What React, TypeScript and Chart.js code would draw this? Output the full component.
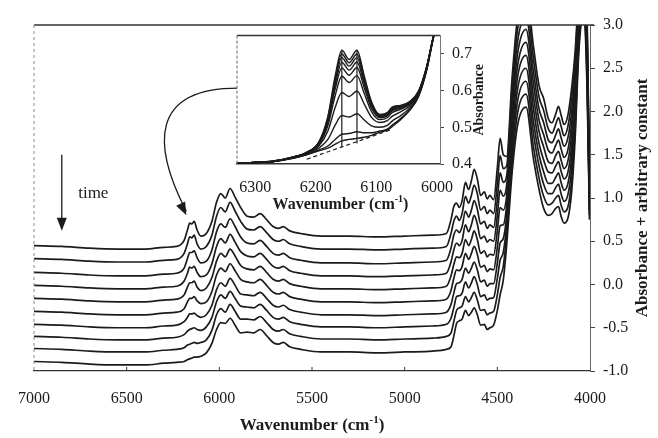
import React, { useEffect, useRef } from "react";
import { Chart, registerables } from "chart.js";

Chart.register(...registerables);

const FONT = "'Liberation Serif', 'Times New Roman', serif";
const INK = "#1b1b1b";

// ---------- main chart data ----------
const WAVENUMBERS = [7000, 6850, 6700, 6550, 6400, 6300, 6230, 6190, 6172, 6160, 6148, 6136, 6120, 6100, 6070, 6040, 6015, 5992, 5968, 5942, 5915, 5885, 5850, 5815, 5780, 5745, 5710, 5680, 5655, 5620, 5560, 5450, 5300, 5150, 5000, 4850, 4775, 4750, 4735, 4720, 4705, 4690, 4672, 4655, 4640, 4625, 4608, 4590, 4570, 4555, 4540, 4520, 4500, 4485, 4468, 4450, 4420, 4390, 4345, 4305, 4275, 4250, 4225, 4205, 4185, 4170, 4155, 4140, 4120, 4100, 4080, 4060, 4035, 4015, 4003];

const SPECTRUM_1 = [0.45, 0.44, 0.42, 0.41, 0.41, 0.43, 0.44, 0.51, 0.63, 0.71, 0.70, 0.73, 0.63, 0.56, 0.59, 0.73, 0.95, 1.05, 1.00, 1.11, 1.01, 0.89, 0.79, 0.78, 0.82, 0.75, 0.67, 0.65, 0.67, 0.62, 0.59, 0.56, 0.56, 0.55, 0.56, 0.57, 0.59, 0.75, 0.90, 0.94, 0.89, 0.97, 1.18, 1.10, 1.20, 1.33, 1.22, 1.03, 1.07, 0.99, 1.03, 0.98, 1.35, 1.69, 1.50, 1.48, 2.40, 3.10, 3.40, 2.75, 2.30, 2.15, 1.92, 1.87, 1.97, 2.06, 1.95, 1.85, 1.95, 2.25, 2.70, 3.40, 3.60, 3.00, 1.25];
const SPECTRUM_2 = [0.30, 0.29, 0.27, 0.26, 0.26, 0.28, 0.29, 0.36, 0.47, 0.55, 0.54, 0.57, 0.47, 0.41, 0.44, 0.57, 0.79, 0.89, 0.84, 0.95, 0.85, 0.73, 0.64, 0.63, 0.67, 0.60, 0.52, 0.50, 0.52, 0.47, 0.44, 0.41, 0.41, 0.40, 0.41, 0.42, 0.44, 0.59, 0.73, 0.79, 0.74, 0.82, 1.02, 0.94, 1.03, 1.15, 1.05, 0.86, 0.90, 0.82, 0.86, 0.82, 1.17, 1.49, 1.34, 1.37, 2.28, 2.96, 3.25, 2.61, 2.17, 2.01, 1.80, 1.75, 1.85, 1.93, 1.82, 1.72, 1.82, 2.12, 2.59, 3.32, 3.54, 2.91, 1.19];
const SPECTRUM_3 = [0.14, 0.13, 0.11, 0.10, 0.10, 0.12, 0.13, 0.19, 0.30, 0.37, 0.37, 0.39, 0.31, 0.25, 0.27, 0.40, 0.61, 0.70, 0.66, 0.76, 0.67, 0.55, 0.48, 0.47, 0.51, 0.44, 0.36, 0.34, 0.36, 0.31, 0.28, 0.25, 0.25, 0.24, 0.25, 0.26, 0.28, 0.42, 0.57, 0.63, 0.60, 0.67, 0.85, 0.78, 0.86, 0.97, 0.87, 0.70, 0.73, 0.65, 0.69, 0.66, 0.98, 1.29, 1.18, 1.25, 2.16, 2.82, 3.10, 2.46, 2.03, 1.87, 1.67, 1.64, 1.73, 1.80, 1.69, 1.60, 1.69, 1.98, 2.48, 3.24, 3.49, 2.82, 1.14];
const SPECTRUM_4 = [-0.01, -0.02, -0.04, -0.05, -0.05, -0.03, -0.02, 0.04, 0.13, 0.20, 0.19, 0.21, 0.14, 0.09, 0.11, 0.24, 0.44, 0.53, 0.48, 0.58, 0.49, 0.38, 0.33, 0.32, 0.36, 0.29, 0.21, 0.19, 0.21, 0.16, 0.13, 0.10, 0.10, 0.09, 0.10, 0.11, 0.13, 0.26, 0.40, 0.48, 0.45, 0.51, 0.69, 0.61, 0.69, 0.80, 0.70, 0.53, 0.56, 0.49, 0.52, 0.50, 0.80, 1.09, 1.02, 1.14, 2.03, 2.68, 2.95, 2.32, 1.90, 1.73, 1.55, 1.52, 1.61, 1.67, 1.56, 1.47, 1.55, 1.85, 2.37, 3.17, 3.43, 2.73, 1.08];
const SPECTRUM_5 = [-0.16, -0.17, -0.19, -0.20, -0.20, -0.18, -0.17, -0.12, -0.03, 0.02, 0.02, 0.04, -0.03, -0.07, -0.04, 0.08, 0.27, 0.36, 0.32, 0.41, 0.33, 0.22, 0.18, 0.17, 0.21, 0.14, 0.06, 0.04, 0.06, 0.01, -0.02, -0.05, -0.05, -0.06, -0.05, -0.04, -0.02, 0.10, 0.23, 0.32, 0.31, 0.36, 0.52, 0.45, 0.52, 0.62, 0.52, 0.36, 0.39, 0.32, 0.35, 0.34, 0.62, 0.89, 0.86, 1.02, 1.91, 2.54, 2.80, 2.17, 1.77, 1.59, 1.42, 1.40, 1.49, 1.54, 1.43, 1.34, 1.42, 1.72, 2.26, 3.09, 3.38, 2.64, 1.03];
const SPECTRUM_6 = [-0.31, -0.32, -0.34, -0.35, -0.35, -0.33, -0.32, -0.28, -0.20, -0.16, -0.16, -0.14, -0.19, -0.22, -0.20, -0.08, 0.11, 0.19, 0.15, 0.24, 0.16, 0.06, 0.03, 0.02, 0.06, -0.01, -0.09, -0.11, -0.09, -0.14, -0.17, -0.20, -0.20, -0.21, -0.20, -0.19, -0.17, -0.07, 0.07, 0.17, 0.16, 0.21, 0.36, 0.29, 0.36, 0.44, 0.35, 0.20, 0.22, 0.15, 0.18, 0.17, 0.43, 0.68, 0.69, 0.91, 1.79, 2.41, 2.65, 2.03, 1.63, 1.44, 1.30, 1.29, 1.37, 1.42, 1.30, 1.22, 1.29, 1.58, 2.14, 3.01, 3.32, 2.56, 0.97];
const SPECTRUM_7 = [-0.46, -0.47, -0.49, -0.50, -0.50, -0.48, -0.47, -0.43, -0.38, -0.34, -0.34, -0.33, -0.36, -0.38, -0.35, -0.24, -0.06, 0.02, -0.02, 0.07, -0.01, -0.11, -0.12, -0.13, -0.09, -0.16, -0.24, -0.26, -0.24, -0.29, -0.32, -0.35, -0.35, -0.36, -0.35, -0.34, -0.32, -0.23, -0.10, 0.01, 0.02, 0.06, 0.19, 0.13, 0.19, 0.26, 0.17, 0.03, 0.05, -0.02, 0.01, 0.01, 0.25, 0.48, 0.53, 0.79, 1.67, 2.27, 2.50, 1.88, 1.50, 1.30, 1.17, 1.17, 1.24, 1.29, 1.17, 1.09, 1.16, 1.45, 2.03, 2.93, 3.27, 2.47, 0.92];
const SPECTRUM_8 = [-0.60, -0.61, -0.63, -0.64, -0.64, -0.62, -0.61, -0.58, -0.54, -0.52, -0.51, -0.50, -0.52, -0.53, -0.49, -0.38, -0.20, -0.12, -0.16, -0.08, -0.16, -0.25, -0.26, -0.27, -0.23, -0.30, -0.38, -0.40, -0.38, -0.43, -0.46, -0.49, -0.49, -0.50, -0.49, -0.48, -0.46, -0.39, -0.27, -0.14, -0.13, -0.10, 0.03, -0.04, 0.02, 0.09, 0.00, -0.14, -0.12, -0.18, -0.16, -0.15, 0.07, 0.28, 0.37, 0.68, 1.54, 2.13, 2.35, 1.74, 1.37, 1.16, 1.05, 1.05, 1.12, 1.16, 1.04, 0.96, 1.03, 1.32, 1.92, 2.86, 3.21, 2.38, 0.86];
const SPECTRUM_9 = [-0.74, -0.75, -0.77, -0.78, -0.78, -0.76, -0.75, -0.73, -0.70, -0.69, -0.68, -0.67, -0.68, -0.67, -0.64, -0.53, -0.35, -0.28, -0.32, -0.23, -0.31, -0.40, -0.40, -0.41, -0.37, -0.44, -0.52, -0.54, -0.52, -0.57, -0.60, -0.63, -0.63, -0.64, -0.63, -0.62, -0.60, -0.56, -0.43, -0.30, -0.27, -0.25, -0.14, -0.20, -0.15, -0.09, -0.18, -0.30, -0.29, -0.35, -0.33, -0.31, -0.12, 0.08, 0.21, 0.57, 1.42, 1.99, 2.20, 1.59, 1.23, 1.02, 0.92, 0.94, 1.00, 1.03, 0.91, 0.84, 0.89, 1.18, 1.81, 2.78, 3.16, 2.29, 0.81];
const SPECTRUM_10 = [-0.89, -0.90, -0.92, -0.93, -0.93, -0.91, -0.90, -0.89, -0.87, -0.86, -0.85, -0.84, -0.84, -0.83, -0.79, -0.68, -0.52, -0.44, -0.45, -0.39, -0.47, -0.56, -0.55, -0.56, -0.52, -0.59, -0.67, -0.69, -0.67, -0.72, -0.75, -0.78, -0.78, -0.79, -0.78, -0.77, -0.75, -0.72, -0.60, -0.45, -0.42, -0.40, -0.30, -0.36, -0.32, -0.27, -0.35, -0.47, -0.46, -0.52, -0.50, -0.47, -0.30, -0.12, 0.05, 0.45, 1.30, 1.85, 2.05, 1.45, 1.10, 0.88, 0.80, 0.82, 0.88, 0.90, 0.78, 0.71, 0.76, 1.05, 1.70, 2.70, 3.10, 2.20, 0.75];

const MAIN_SPECTRA = [SPECTRUM_1, SPECTRUM_2, SPECTRUM_3, SPECTRUM_4, SPECTRUM_5, SPECTRUM_6, SPECTRUM_7, SPECTRUM_8, SPECTRUM_9, SPECTRUM_10];

const MAIN_X_MIN = 4000;
const MAIN_X_MAX = 7000;
const MAIN_X_STEP = 500;
const MAIN_Y_MIN = -1;
const MAIN_Y_MAX = 3;
const MAIN_Y_STEP = 0.5;

// ---------- inset data ----------
const INSET_WAVENUMBERS = [6330, 6300, 6270, 6240, 6215, 6195, 6180, 6168, 6157, 6145, 6132, 6120, 6108, 6094, 6082, 6074, 6060, 6045, 6030, 6017, 6007, 5998];

const INSET_1 = [0.403, 0.404, 0.408, 0.418, 0.432, 0.460, 0.530, 0.640, 0.710, 0.685, 0.710, 0.640, 0.570, 0.535, 0.540, 0.555, 0.560, 0.570, 0.600, 0.665, 0.740, 0.800];
const INSET_2 = [0.403, 0.404, 0.408, 0.418, 0.432, 0.459, 0.526, 0.632, 0.700, 0.676, 0.700, 0.633, 0.566, 0.533, 0.538, 0.553, 0.558, 0.569, 0.599, 0.665, 0.740, 0.800];
const INSET_3 = [0.403, 0.404, 0.408, 0.418, 0.431, 0.458, 0.523, 0.625, 0.690, 0.667, 0.690, 0.626, 0.562, 0.531, 0.536, 0.551, 0.557, 0.568, 0.599, 0.664, 0.740, 0.800];
const INSET_4 = [0.403, 0.404, 0.407, 0.418, 0.431, 0.457, 0.518, 0.615, 0.677, 0.656, 0.678, 0.618, 0.558, 0.529, 0.534, 0.548, 0.555, 0.567, 0.598, 0.664, 0.739, 0.800];
const INSET_5 = [0.403, 0.404, 0.407, 0.417, 0.431, 0.455, 0.513, 0.604, 0.662, 0.642, 0.663, 0.607, 0.552, 0.526, 0.531, 0.545, 0.552, 0.565, 0.597, 0.663, 0.739, 0.800];
const INSET_6 = [0.403, 0.404, 0.407, 0.417, 0.430, 0.453, 0.505, 0.586, 0.639, 0.622, 0.641, 0.592, 0.543, 0.521, 0.526, 0.540, 0.549, 0.563, 0.596, 0.662, 0.739, 0.800];
const INSET_7 = [0.403, 0.404, 0.407, 0.417, 0.429, 0.449, 0.490, 0.554, 0.595, 0.584, 0.599, 0.563, 0.527, 0.513, 0.518, 0.530, 0.542, 0.559, 0.593, 0.661, 0.738, 0.800];
const INSET_8 = [0.403, 0.404, 0.407, 0.416, 0.427, 0.443, 0.467, 0.506, 0.532, 0.528, 0.537, 0.520, 0.504, 0.500, 0.505, 0.517, 0.532, 0.553, 0.590, 0.658, 0.737, 0.800];
const INSET_9 = [0.403, 0.404, 0.407, 0.415, 0.426, 0.438, 0.449, 0.467, 0.481, 0.483, 0.488, 0.485, 0.485, 0.490, 0.495, 0.506, 0.524, 0.548, 0.587, 0.656, 0.736, 0.800];
const INSET_10 = [0.403, 0.404, 0.407, 0.415, 0.425, 0.436, 0.443, 0.454, 0.463, 0.467, 0.470, 0.473, 0.478, 0.487, 0.492, 0.502, 0.521, 0.546, 0.585, 0.655, 0.735, 0.800];
const INSET_SPECTRA = [INSET_1, INSET_2, INSET_3, INSET_4, INSET_5, INSET_6, INSET_7, INSET_8, INSET_9, INSET_10];

const INSET_BASELINE_X = [6215, 6075];
const INSET_BASELINE_Y = [0.413, 0.494];
const INSET_MARKER_X = [6157, 6132];
const INSET_MARKER_TOP = [0.71, 0.71];
const INSET_MARKER_BOTTOM = [0.448, 0.456];

const INSET_X_MIN = 5995;
const INSET_X_MAX = 6330;
const INSET_X_STEP = 100;
const INSET_Y_MIN = 0.4;
const INSET_Y_MAX = 0.75;
const INSET_Y_STEP = 0.1;

// ---------- annotations (in main data coordinates) ----------
const TIME_ARROW_WN = 6850;
const TIME_ARROW_FROM = 1.5;
const TIME_ARROW_TO = 0.62;
const TIME_LABEL = { wn: 6680, y: 1.05, text: "time" };
const CURVE_ARROW = {
  start: [5900, 2.27],
  c1: [6370, 2.27],
  c2: [6365, 1.62],
  end: [6178, 0.80],
};

type Part = { text: string; sup?: boolean };

function drawRich(
  ctx: CanvasRenderingContext2D,
  parts: Part[],
  cx: number,
  cy: number,
  size: number,
  bold: boolean,
  rotation = 0
) {
  ctx.save();
  ctx.translate(cx, cy);
  ctx.rotate(rotation);
  const f = (s: number) => `${bold ? "bold " : ""}${s}px ${FONT}`;
  const supSize = Math.round(size * 0.62);
  let total = 0;
  const widths = parts.map((p) => {
    ctx.font = f(p.sup ? supSize : size);
    const w = ctx.measureText(p.text).width;
    total += w;
    return w;
  });
  let x = -total / 2;
  ctx.textBaseline = "middle";
  ctx.textAlign = "left";
  ctx.fillStyle = INK;
  parts.forEach((p, i) => {
    ctx.font = f(p.sup ? supSize : size);
    ctx.fillText(p.text, x, p.sup ? -size * 0.33 : 0);
    x += widths[i];
  });
  ctx.restore();
}

function arrowHead(ctx: CanvasRenderingContext2D, tipX: number, tipY: number, angle: number, len: number, half: number) {
  ctx.save();
  ctx.translate(tipX, tipY);
  ctx.rotate(angle);
  ctx.beginPath();
  ctx.moveTo(0, 0);
  ctx.lineTo(-len, -half);
  ctx.lineTo(-len, half);
  ctx.closePath();
  ctx.fill();
  ctx.restore();
}

const mainDecor = {
  id: "mainDecor",
  afterDraw(chart: any) {
    const { ctx, chartArea: a, scales } = chart;
    const x = scales.x;
    const y = scales.y;
    ctx.save();
    // top frame
    ctx.strokeStyle = "#333";
    ctx.lineWidth = 1.5;
    ctx.beginPath();
    ctx.moveTo(a.left, a.top);
    ctx.lineTo(a.right + 4, a.top);
    ctx.stroke();
    // left dashed frame
    ctx.strokeStyle = "#8a8a8a";
    ctx.lineWidth = 1;
    ctx.setLineDash([3, 3]);
    ctx.beginPath();
    ctx.moveTo(a.left, a.top);
    ctx.lineTo(a.left, a.bottom);
    ctx.stroke();
    ctx.setLineDash([]);
    // inner x ticks
    ctx.strokeStyle = "#333";
    ctx.lineWidth = 1;
    x.ticks.forEach((t: any) => {
      if (t.value === x.min || t.value === x.max) return;
      const px = x.getPixelForValue(t.value);
      ctx.beginPath();
      ctx.moveTo(px, a.bottom);
      ctx.lineTo(px, a.bottom - 4);
      ctx.stroke();
    });
    // time arrow
    ctx.strokeStyle = INK;
    ctx.fillStyle = INK;
    ctx.lineWidth = 1.3;
    const tx = x.getPixelForValue(TIME_ARROW_WN);
    const ty0 = y.getPixelForValue(TIME_ARROW_FROM);
    const ty1 = y.getPixelForValue(TIME_ARROW_TO);
    ctx.beginPath();
    ctx.moveTo(tx, ty0);
    ctx.lineTo(tx, ty1 - 6);
    ctx.stroke();
    arrowHead(ctx, tx, ty1, Math.PI / 2, 13, 5);
    ctx.font = `17px ${FONT}`;
    ctx.textAlign = "center";
    ctx.textBaseline = "middle";
    ctx.fillText(TIME_LABEL.text, x.getPixelForValue(TIME_LABEL.wn), y.getPixelForValue(TIME_LABEL.y));
    // curved arrow from inset to the 6150 band
    const P = (p: number[]) => [x.getPixelForValue(p[0]), y.getPixelForValue(p[1])];
    const s = P(CURVE_ARROW.start);
    const c1 = P(CURVE_ARROW.c1);
    const c2 = P(CURVE_ARROW.c2);
    const e = P(CURVE_ARROW.end);
    ctx.lineWidth = 1.3;
    ctx.beginPath();
    ctx.moveTo(s[0], s[1]);
    ctx.bezierCurveTo(c1[0], c1[1], c2[0], c2[1], e[0], e[1] - 4);
    ctx.stroke();
    arrowHead(ctx, e[0], e[1], Math.atan2(e[1] - c2[1], e[0] - c2[0]), 13, 5);
    // titles
    drawRich(
      ctx,
      [{ text: "Wavenumber (cm" }, { text: "-1", sup: true }, { text: ")" }],
      (a.left + a.right) / 2,
      a.bottom + 55,
      17,
      true
    );
    drawRich(ctx, [{ text: "Absorbance + arbitrary constant" }], 643, (a.top + a.bottom) / 2, 17, true, -Math.PI / 2);
    ctx.restore();
  },
};

const insetDecor = {
  id: "insetDecor",
  beforeDraw(chart: any) {
    const { ctx, chartArea: a } = chart;
    ctx.save();
    ctx.fillStyle = "#ffffff";
    ctx.fillRect(a.left, a.top, a.right - a.left, a.bottom - a.top);
    ctx.restore();
  },
  afterDraw(chart: any) {
    const { ctx, chartArea: a } = chart;
    ctx.save();
    ctx.strokeStyle = "#333";
    ctx.lineWidth = 1.5;
    ctx.beginPath();
    ctx.moveTo(a.right, a.top);
    ctx.lineTo(a.left, a.top);
    ctx.stroke();
    ctx.strokeStyle = "#666";
    ctx.lineWidth = 1;
    ctx.setLineDash([3, 2]);
    ctx.beginPath();
    ctx.moveTo(a.left, a.top);
    ctx.lineTo(a.left, a.bottom);
    ctx.stroke();
    ctx.setLineDash([]);
    drawRich(
      ctx,
      [{ text: "Wavenumber (cm" }, { text: "-1", sup: true }, { text: ")" }],
      (a.left + a.right) / 2 + 2,
      a.bottom + 41,
      16,
      true
    );
    drawRich(ctx, [{ text: "Absorbance" }], a.right + 39, (a.top + a.bottom) / 2, 14, true, -Math.PI / 2);
    ctx.restore();
  },
};

export default function App() {
  const mainRef = useRef<HTMLCanvasElement>(null);
  const insetRef = useRef<HTMLCanvasElement>(null);

  useEffect(() => {
    document.body.style.margin = "0";
    Chart.defaults.font.family = FONT;
    Chart.defaults.color = INK;

    const mainDatasets = MAIN_SPECTRA.map((arr, i) => ({
      label: `spectrum ${i + 1}`,
      data: WAVENUMBERS.map((wn, j) => ({ x: wn, y: arr[j] })),
      borderColor: INK,
      borderWidth: 1.7,
      pointRadius: 0,
      fill: false,
      cubicInterpolationMode: "monotone" as const,
    }));

    const main = new Chart(mainRef.current!, {
      type: "line",
      data: { datasets: mainDatasets },
      options: {
        animation: false,
        responsive: false,
        devicePixelRatio: 1,
        layout: { padding: { left: 33, top: 25, right: 0, bottom: 0 } },
        plugins: { legend: { display: false }, tooltip: { enabled: false } },
        scales: {
          x: {
            type: "linear",
            reverse: true,
            min: MAIN_X_MIN,
            max: MAIN_X_MAX,
            position: "bottom",
            ticks: {
              stepSize: MAIN_X_STEP,
              padding: 18,
              font: { size: 16, family: FONT },
              color: INK,
              autoSkip: false,
              maxRotation: 0,
              callback: (v: any) => String(v),
            },
            grid: { display: true, drawOnChartArea: false, drawTicks: false, color: "#333" },
            border: { display: true, color: "#333", width: 1.3 },
            afterFit: (s: any) => {
              s.height = 67;
            },
          },
          y: {
            type: "linear",
            position: "right",
            min: MAIN_Y_MIN,
            max: MAIN_Y_MAX,
            ticks: {
              stepSize: MAIN_Y_STEP,
              padding: 8,
              font: { size: 16, family: FONT },
              color: INK,
              callback: (v: any) => Number(v).toFixed(1),
            },
            grid: { display: true, drawOnChartArea: false, drawTicks: true, tickLength: 5, color: "#444" },
            border: { display: true, color: "#666", width: 1, dash: [3, 2] },
            afterFit: (s: any) => {
              s.width = 68;
            },
          },
        },
      },
      plugins: [mainDecor],
    });

    const insetDatasets: any[] = INSET_SPECTRA.map((arr, i) => ({
      label: `inset ${i + 1}`,
      data: INSET_WAVENUMBERS.map((wn, j) => ({ x: wn, y: arr[j] })),
      borderColor: INK,
      borderWidth: 1.4,
      pointRadius: 0,
      fill: false,
      cubicInterpolationMode: "monotone",
    }));
    insetDatasets.push({
      label: "baseline",
      data: INSET_BASELINE_X.map((wn, j) => ({ x: wn, y: INSET_BASELINE_Y[j] })),
      borderColor: INK,
      borderWidth: 1.2,
      borderDash: [4, 3],
      pointRadius: 0,
      fill: false,
    });
    INSET_MARKER_X.forEach((wn, j) => {
      insetDatasets.push({
        label: `marker ${j + 1}`,
        data: [
          { x: wn, y: INSET_MARKER_BOTTOM[j] },
          { x: wn, y: INSET_MARKER_TOP[j] },
        ],
        borderColor: INK,
        borderWidth: 1.2,
        pointRadius: 0,
        fill: false,
      });
    });

    const inset = new Chart(insetRef.current!, {
      type: "line",
      data: { datasets: insetDatasets },
      options: {
        animation: false,
        responsive: false,
        devicePixelRatio: 1,
        layout: { padding: { left: 22, top: 10, right: 0, bottom: 0 } },
        plugins: { legend: { display: false }, tooltip: { enabled: false } },
        scales: {
          x: {
            type: "linear",
            reverse: true,
            min: INSET_X_MIN,
            max: INSET_X_MAX,
            position: "bottom",
            ticks: {
              stepSize: INSET_X_STEP,
              includeBounds: false,
              padding: 14,
              font: { size: 16, family: FONT },
              color: INK,
              autoSkip: false,
              maxRotation: 0,
              callback: (v: any) => String(v),
            },
            grid: { display: true, drawOnChartArea: false, drawTicks: false },
            border: { display: true, color: "#333", width: 1.5 },
            afterFit: (s: any) => {
              s.height = 54;
            },
          },
          y: {
            type: "linear",
            position: "right",
            min: INSET_Y_MIN,
            max: INSET_Y_MAX,
            ticks: {
              stepSize: INSET_Y_STEP,
              includeBounds: false,
              padding: 8,
              font: { size: 16, family: FONT },
              color: INK,
              callback: (v: any) => Number(v).toFixed(1),
            },
            grid: { display: true, drawOnChartArea: false, drawTicks: true, tickLength: 4, color: "#444" },
            border: { display: true, color: "#777", width: 1, dash: [3, 2] },
            afterFit: (s: any) => {
              s.width = 55;
            },
          },
        },
      },
      plugins: [insetDecor],
    });

    return () => {
      main.destroy();
      inset.destroy();
    };
  }, []);

  return (
    <div style={{ position: "relative", width: 658, height: 438, background: "#ffffff" }}>
      <canvas ref={mainRef} width={658} height={438} style={{ position: "absolute", left: 0, top: 0 }} />
      <canvas ref={insetRef} width={280} height={200} style={{ position: "absolute", left: 215, top: 18 }} />
    </div>
  );
}
